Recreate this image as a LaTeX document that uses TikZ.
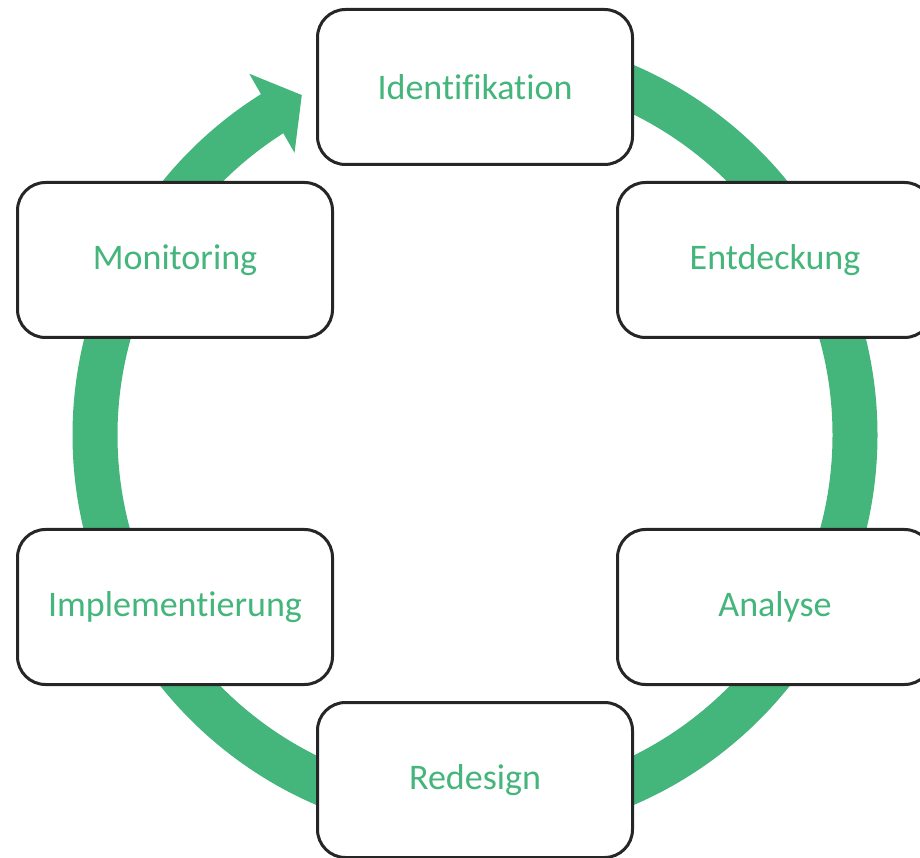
\documentclass[tikz,border=0pt]{standalone}
\usepackage{fontspec}
\setmainfont{Carlito}[Ligatures=NoCommon]
\definecolor{ringgreen}{HTML}{44B57B}
\definecolor{boxline}{HTML}{262626}
\begin{document}
\begin{tikzpicture}[x=1pt,y=1pt,
  stage/.style={draw=boxline, line width=3pt, fill=white, rounded corners=28pt,
    minimum width=315pt, minimum height=155pt, inner sep=0pt,
    text=ringgreen, font=\fontsize{36}{40}\selectfont},
  ring/.style={draw=ringgreen, line width=45pt}]
\useasboundingbox (0,0) rectangle (920,857);
\clip (0,0) rectangle (920,857);
\coordinate (c) at (475,422);
\begin{scope}[shift={(c)}]
  \draw[ring] (90:380) arc[start angle=90, end angle=-238, radius=380];
  \fill[ringgreen] (122:426) -- (117:381.5) -- (122.6:335) -- cycle;
\end{scope}
\node[stage] (ident) at (475,770) {Identifikation};
\node[stage] (entd) at (775,597) {Entdeckung};
\node[stage] (moni) at (175,597) {Monitoring};
\node[stage] (impl) at (175,250) {Implementierung};
\node[stage] (anal) at (775,250) {Analyse};
\node[stage] (rede) at (475,77) {Redesign};
\end{tikzpicture}
\end{document}
